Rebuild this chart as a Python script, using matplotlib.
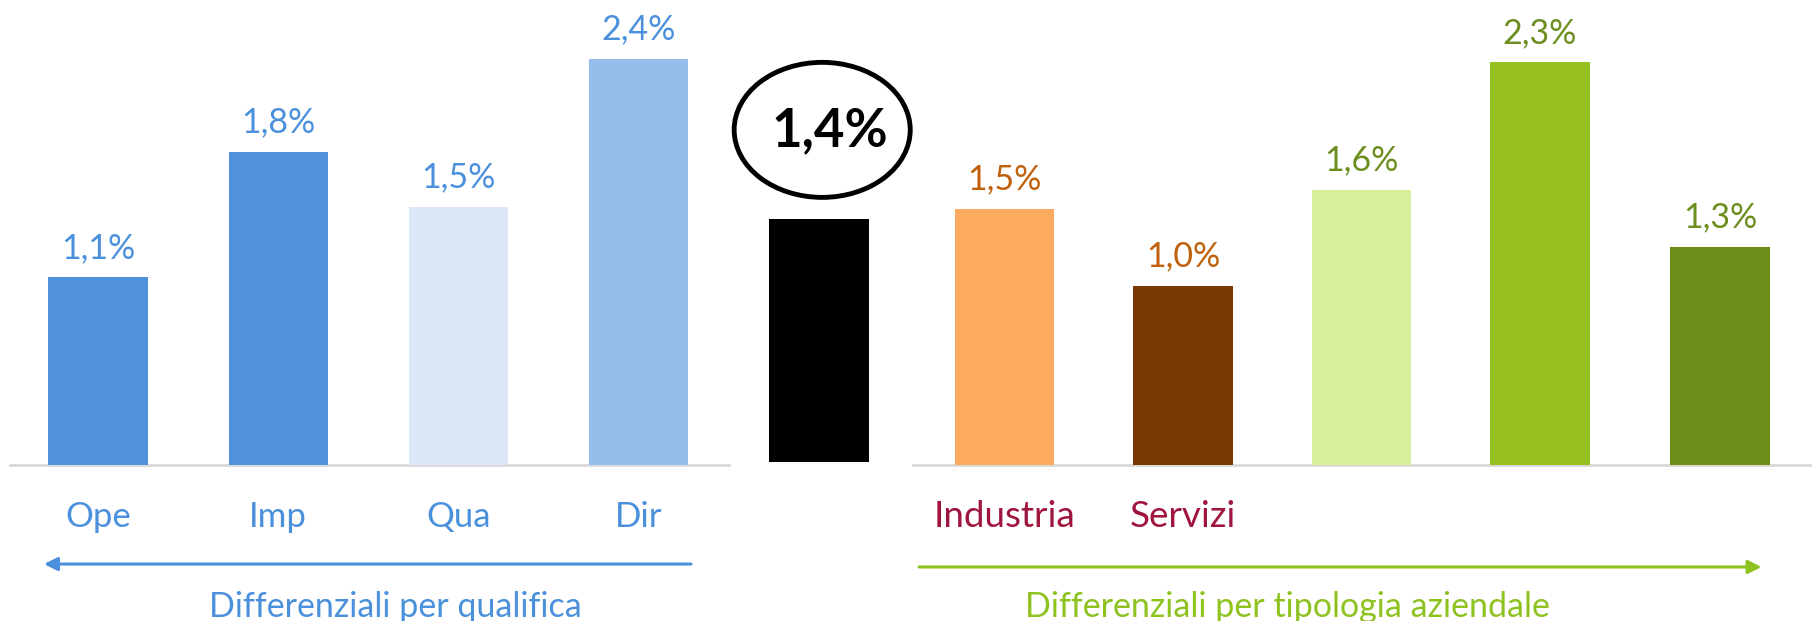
import matplotlib.pyplot as plt
from matplotlib.patches import Ellipse

plt.rcParams['font.family'] = ['Lato', 'DejaVu Sans']

# Left group: differentials by qualification
qual_cats = ['Ope', 'Imp', 'Qua', 'Dir']
qual_vals = [1.09, 1.82, 1.50, 2.36]
qual_colors = ['#4F91DA', '#4F91DA', '#DCE8F7', '#96BEEA']

# Overall value
total_val = 1.41

# Right group: differentials by company type
firm_cats = ['Industria', 'Servizi', '', '', '']
firm_vals = [1.49, 1.04, 1.60, 2.34, 1.27]
firm_colors = ['#FBAA60', '#773804', '#D9EE9B', '#96C120', '#6E8E1A']
firm_label_colors = ['#C0600A', '#C0600A', '#6B8E1E', '#6B8E1E', '#6B8E1E']

blue = '#4A90DC'
green = '#8DC21F'
crimson = '#A0153E'

fig = plt.figure(figsize=(18.12, 6.21), dpi=100)
ax = fig.add_axes([0, 0, 1, 1])
ax.set_xlim(-0.544, 9.51)
ax.set_ylim(-0.907, 2.703)
ax.axis('off')

w = 0.552
qx = list(range(len(qual_vals)))
fx = [5.03, 6.02, 7.01, 8.0, 9.0]

def fmt(v):
    return f'{v:.1f}'.replace('.', ',') + '%'

ax.bar(qx, qual_vals, width=w, color=qual_colors)
ax.bar([4], [total_val], width=w, bottom=0.02, color='black')
ax.bar(fx, firm_vals, width=w, color=firm_colors)

# baselines
ax.plot([-0.49, 3.50], [0, 0], color='#D9D9D9', lw=2, zorder=0)
ax.plot([4.52, 9.51], [0, 0], color='#D9D9D9', lw=2, zorder=0)

for x, v in zip(qx, qual_vals):
    ax.annotate(fmt(v), (x, v), xytext=(0, 14), textcoords='offset points',
                ha='center', va='baseline', fontsize=24.5, color=blue)
for x, v, c in zip(fx, firm_vals, firm_label_colors):
    ax.annotate(fmt(v), (x, v), xytext=(0, 14), textcoords='offset points',
                ha='center', va='baseline', fontsize=24.5, color=c)

for x, c in zip(qx, qual_cats):
    ax.text(x, -0.36, c, ha='center', va='baseline', fontsize=25, color=blue)
for x, c in zip(fx, firm_cats):
    if c:
        ax.text(x, -0.36, c, ha='center', va='baseline', fontsize=26.5, color=crimson)

# highlighted total
ax.add_patch(Ellipse((4.018, 1.948), 0.977, 0.785, fill=False, ec='black', lw=3.5))
ax.text(4.06, 1.94, fmt(total_val), ha='center', va='center', fontsize=38,
        fontweight='bold', color='black')

# direction arrows
ax.annotate('', xy=(-0.30, -0.576), xytext=(3.29, -0.576),
            arrowprops=dict(arrowstyle='-|>,head_length=0.8,head_width=0.4',
                            color=blue, lw=2.2, shrinkA=0, shrinkB=0))
ax.annotate('', xy=(9.23, -0.593), xytext=(4.556, -0.593),
            arrowprops=dict(arrowstyle='-|>,head_length=0.8,head_width=0.4',
                            color=green, lw=2.2, shrinkA=0, shrinkB=0))

ax.text(1.65, -0.885, 'Differenziali per qualifica', ha='center', va='baseline',
        fontsize=24.5, color=blue)
ax.text(6.6, -0.885, 'Differenziali per tipologia aziendale', ha='center',
        va='baseline', fontsize=24.5, color=green)

fig.savefig('out.png', dpi=100)
